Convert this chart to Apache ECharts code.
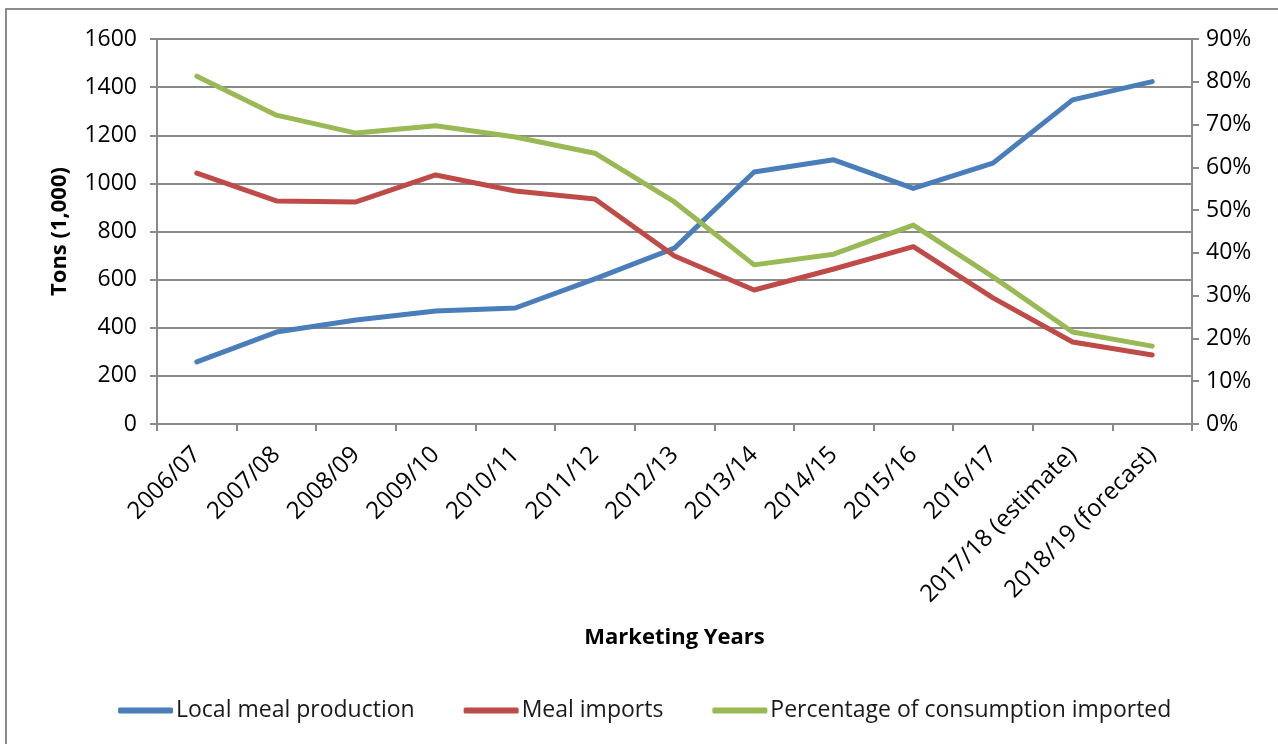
<!DOCTYPE html>
<html>
<head>
<meta charset="utf-8">
<title>Meal production and imports</title>
<script src="https://cdn.jsdelivr.net/npm/echarts@6/dist/echarts.min.js"></script>
<style>
  html, body { margin: 0; padding: 0; background: #ffffff; }
  #chart { width: 1278px; height: 744px; }
</style>
</head>
<body>
<div id="chart"></div>
<script>
// Marketing years on the category axis
const years = ['2006/07', '2007/08', '2008/09', '2009/10', '2010/11', '2011/12', '2012/13',
  '2013/14', '2014/15', '2015/16', '2016/17', '2017/18 (estimate)', '2018/19 (forecast)'];

// Tons (1,000)
const localProduction = [258, 382, 432, 470, 482, 603, 731, 1047, 1098, 979, 1084, 1347, 1423];
const mealImports = [1043, 927, 923, 1035, 968, 935, 698, 557, 644, 737, 524, 341, 287];

// Share of consumption that is imported, in percent
const importedShare = [81.3, 72.2, 68.0, 69.7, 67.1, 63.3, 51.9, 37.2, 39.7, 46.5, 34.4, 21.5, 18.2];

// Axis tick settings
const tonsMax = 1600, tonsStep = 200;
const pctMax = 90, pctStep = 10;

const FONT = '"Open Sans"';
const GRID = '#8a8a8a';

const chart = echarts.init(document.getElementById('chart'), null, { renderer: 'canvas' });

chart.setOption({
  animation: false,
  backgroundColor: '#ffffff',
  textStyle: { fontFamily: FONT },
  graphic: [{
    type: 'rect',
    shape: { x: 6, y: 9, width: 1400, height: 900 },
    style: { fill: 'none', stroke: '#8c8c8c', lineWidth: 2 },
    silent: true
  }],
  grid: { left: 157, right: 86, top: 39, bottom: 320, containLabel: false },
  legend: {
    top: 699,
    left: 118,
    padding: 0,
    icon: 'roundRect',
    itemWidth: 55,
    itemHeight: 6,
    itemGap: 49,
    textStyle: { fontFamily: FONT, fontSize: 23, color: '#1a1a1a', padding: [0, 0, 0, -2] },
    data: ['Local meal production', 'Meal imports', 'Percentage of consumption imported']
  },
  xAxis: {
    type: 'category',
    data: years,
    boundaryGap: true,
    name: 'Marketing Years',
    nameLocation: 'middle',
    nameGap: 203,
    nameTextStyle: { fontFamily: FONT, fontSize: 22, fontWeight: 'bold', color: '#000' },
    axisLine: { lineStyle: { color: GRID, width: 2 } },
    axisTick: { show: true, length: 7, inside: false, lineStyle: { color: GRID, width: 2 } },
    axisLabel: { rotate: 45, margin: 27, fontFamily: FONT, fontSize: 24, color: '#000', interval: 0 },
    splitLine: { show: false }
  },
  yAxis: [{
    type: 'value',
    min: 0, max: tonsMax, interval: tonsStep,
    name: 'Tons (1,000)',
    nameLocation: 'middle',
    nameRotate: 90,
    nameGap: 86,
    nameTextStyle: { fontFamily: FONT, fontSize: 22, fontWeight: 'bold', color: '#000' },
    axisLine: { show: true, lineStyle: { color: GRID, width: 2 } },
    axisTick: { show: true, length: 7, lineStyle: { color: GRID, width: 2 } },
    axisLabel: { margin: 20, fontFamily: FONT, fontSize: 23, color: '#000', formatter: v => String(v) },
    splitLine: { show: true, lineStyle: { color: GRID, width: 2 } }
  }, {
    type: 'value',
    min: 0, max: pctMax, interval: pctStep,
    position: 'right',
    axisLine: { show: true, lineStyle: { color: GRID, width: 2 } },
    axisTick: { show: true, length: 7, lineStyle: { color: GRID, width: 2 } },
    axisLabel: { margin: 14, fontFamily: FONT, fontSize: 23, color: '#000', formatter: v => v + '%' },
    splitLine: { show: false }
  }],
  series: [{
    name: 'Local meal production',
    type: 'line',
    yAxisIndex: 0,
    data: localProduction,
    showSymbol: false,
    symbol: 'none',
    color: '#4a7ebb',
    lineStyle: { width: 5, color: '#4a7ebb', cap: 'round', join: 'round' }
  }, {
    name: 'Meal imports',
    type: 'line',
    yAxisIndex: 0,
    data: mealImports,
    showSymbol: false,
    symbol: 'none',
    color: '#be4b48',
    lineStyle: { width: 5, color: '#be4b48', cap: 'round', join: 'round' }
  }, {
    name: 'Percentage of consumption imported',
    type: 'line',
    yAxisIndex: 1,
    data: importedShare,
    showSymbol: false,
    symbol: 'none',
    color: '#98b954',
    lineStyle: { width: 5, color: '#98b954', cap: 'round', join: 'round' }
  }]
});
</script>
</body>
</html>
